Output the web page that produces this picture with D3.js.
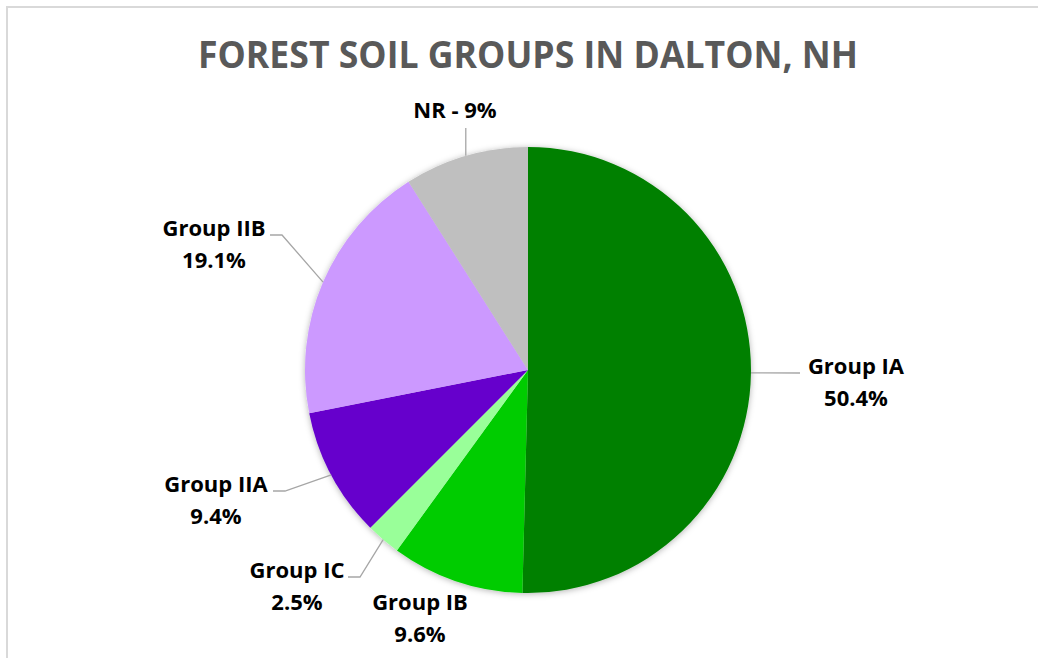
<!DOCTYPE html>
<html>
<head>
<meta charset="utf-8">
<script src="https://cdn.jsdelivr.net/npm/d3@7"></script>
<style>
  body { margin: 0; background: #fff; }
  svg text { font-family: "Open Sans", sans-serif; }
</style>
</head>
<body>
<div id="chart"></div>
<script>
// soil groups, clockwise from 12 o'clock
let groups = ["Group IA", "Group IB", "Group IC", "Group IIA", "Group IIB", "NR"]
let shares = [50.4, 9.6, 2.5, 9.4, 19.1, 9]
let shareLabels = ["50.4%", "9.6%", "2.5%", "9.4%", "19.1%", "9%"]
let colors = ["#008000", "#00cc00", "#99ff99", "#6600cc", "#cc99ff", "#bfbfbf"]

let width = 1038
let height = 658
let cx = 528
let cy = 370
let radius = 223

// label placement: x, y of first line, elbow x of leader (null = none)
let labelPos = [
  {x: 856, y: 374, elbow: 800},
  {x: 420, y: 610, elbow: null},
  {x: 297, y: 578, elbow: 360},
  {x: 216, y: 492, elbow: 285},
  {x: 214, y: 236, elbow: 282},
  {x: 455, y: 118, elbow: null, oneLine: true}
]

let svg = d3.select("#chart")
  .append("svg")
  .attr("width", width)
  .attr("height", height)

let defs = svg.append("defs")
let shadow = defs.append("filter").attr("id", "shadow")
  .attr("x", "-10%").attr("y", "-10%").attr("width", "120%").attr("height", "120%")
shadow.append("feDropShadow")
  .attr("dx", 0).attr("dy", 1)
  .attr("stdDeviation", 3)
  .attr("flood-color", "#000")
  .attr("flood-opacity", 0.3)

// chart area border (top + left only visible)
svg.append("path")
  .attr("d", `M7,${height} L7,7 L${width},7`)
  .attr("fill", "none")
  .attr("stroke", "#d9d9d9")
  .attr("stroke-width", 2)

svg.append("text")
  .attr("x", cx)
  .attr("y", 68)
  .attr("text-anchor", "middle")
  .attr("font-size", 38)
  .attr("font-weight", "bold")
  .attr("fill", "#595959")
  .attr("textLength", 660)
  .attr("lengthAdjust", "spacingAndGlyphs")
  .text("FOREST SOIL GROUPS IN DALTON, NH")

let pie = d3.pie().sort(null).value(d => d)
let arcs = pie(shares)

let arc = d3.arc().innerRadius(0).outerRadius(radius)

let g = svg.append("g").attr("transform", `translate(${cx},${cy})`)

g.append("g")
  .attr("filter", "url(#shadow)")
  .selectAll("path")
  .data(arcs)
  .enter()
  .append("path")
  .attr("d", arc)
  .attr("fill", (d, i) => colors[i])

// leader lines
function edgePoint(d) {
  let a = (d.startAngle + d.endAngle) / 2
  return [cx + radius * Math.sin(a), cy - radius * Math.cos(a)]
}

arcs.forEach((d, i) => {
  let p = labelPos[i]
  let e = edgePoint(d)
  if (p.elbow != null) {
    let ly = p.y - 1
    svg.append("polyline")
      .attr("points", `${e[0]},${e[1]} ${p.elbow},${ly} ${p.elbow < e[0] ? p.elbow - 12 : p.elbow} ,${ly}`)
      .attr("fill", "none")
      .attr("stroke", "#a6a6a6")
      .attr("stroke-width", 1.3)
  } else if (p.oneLine) {
    svg.append("line")
      .attr("x1", e[0]).attr("y1", e[1])
      .attr("x2", e[0]).attr("y2", p.y + 10)
      .attr("stroke", "#a6a6a6")
      .attr("stroke-width", 1.3)
  }
})

let labels = svg.append("g")
  .attr("font-size", 22)
  .attr("font-weight", "bold")
  .attr("fill", "#000")
  .attr("text-anchor", "middle")

arcs.forEach((d, i) => {
  let p = labelPos[i]
  let t = labels.append("text").attr("x", p.x).attr("y", p.y)
  if (p.oneLine) {
    t.text(groups[i] + " - " + shareLabels[i])
  } else {
    t.append("tspan").attr("x", p.x).text(groups[i])
    t.append("tspan").attr("x", p.x).attr("dy", 32).text(shareLabels[i])
  }
})
</script>
</body>
</html>
